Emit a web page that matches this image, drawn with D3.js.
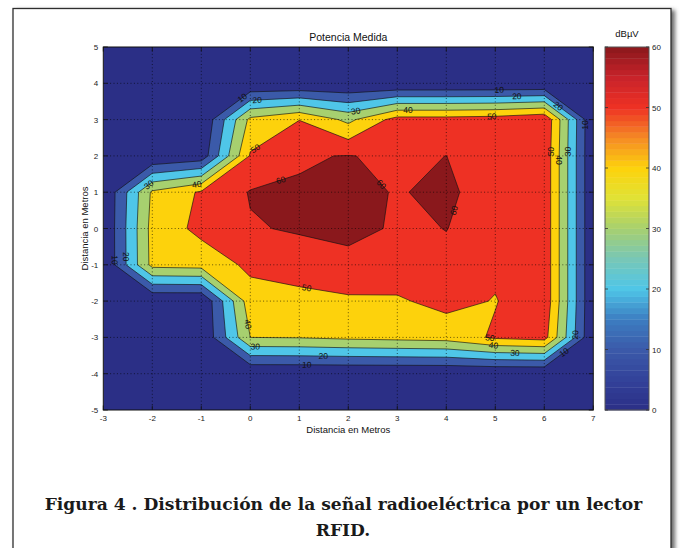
<!DOCTYPE html>
<html>
<head>
<meta charset="utf-8">
<script src="https://cdn.jsdelivr.net/npm/d3@7"></script>
<style>
  html, body { margin: 0; padding: 0; background: #ffffff; }
  svg { display: block; }
</style>
</head>
<body>
<svg id="fig" width="681" height="548"></svg>
<script>
// Measured received power (dBµV) on a 1 m grid, x = -3..7 m, y = 5..-5 m
const xNodes = d3.range(-3, 8);          // columns
const yNodes = d3.range(5, -6, -1);      // rows, top to bottom
const row_y5  = [0, 0, 0, 0,    0,    0,    0,     0,     0,    0,    0];
const row_y4  = [0, 0, 0, 0,    0,    0,    0,     0,     0,    0,    0];
const row_y3  = [0, 0, 0, 42.5, 49.8, 37.5, 54,    54,    55,   58.8, 0];
const row_y2  = [0, 0, 3.5, 51, 59.3, 60.3, 58.5,  60.05, 55,   57.5, 0];
const row_y1  = [0, 41.7, 51.2, 60.6, 60.7, 64.3, 59.05, 63, 52,  57.5, 0];
const row_y0  = [0, 43.5, 52.7, 59.3, 60.9, 64.9, 58,  60.2,  55,   57.5, 0];
const row_ym1 = [0, 43, 44, 52,   55.6, 54.7, 56,    57.8,  52,   57.5, 0];
const row_ym2 = [0, 0, 0, 46,     46.3, 49,   48.8,  53.1,  49.5, 57.5, 0];
const row_ym3 = [0, 0, 0, 40,     40.5, 42,   43,    44,    51.5, 53.8, 0];
const row_ym4 = [0, 0, 0, 0,    0,    0,    0,     0,     0,    0,    0];
const row_ym5 = [0, 0, 0, 0,    0,    0,    0,     0,     0,    0,    0];

const levels = [10, 20, 30, 40, 50, 60];
const xTicks = d3.range(-3, 8);
const yTicks = d3.range(-5, 6);
const cbTicks = [0, 10, 20, 30, 40, 50, 60];

// Contour labels: level and approximate spot (metres); snapped onto the line
const labelSpots = [
  [10, -0.16, 3.59], [20, 0.14, 3.45], [30, 2.16, 3.17], [40, 3.22, 3.26],
  [10, 5.08, 3.8], [20, 5.44, 3.57], [50, 4.93, 3.0], [20, 6.25, 3.31],
  [10, 6.8, 2.85], [50, 6.12, 2.12], [40, 6.3, 1.89], [30, 6.47, 2.12],
  [50, 0.06, 2.3], [60, 0.59, 1.47], [60, 2.66, 1.2], [60, 4.14, 0.51],
  [40, -1.09, 1.2], [30, -2.07, 1.2], [10, -2.8, -0.87], [20, -2.56, -0.78],
  [50, 1.15, -1.65], [40, -0.14, -2.66], [30, 0.1, -3.3], [20, 1.49, -3.55],
  [10, 1.15, -3.8], [50, 4.89, -3.02], [40, 4.96, -3.27], [30, 5.4, -3.48],
  [20, 6.63, -2.93], [10, 6.39, -3.39]
];

// Colour map (value -> colour) used by the filled bands and the colour bar
const cmapStops = [0, 5, 10, 15, 20, 25, 30, 35, 40, 45, 50, 55, 60];
const cmapColors = ['#2b2f86', '#33429a', '#3b5aa9', '#3c7dc1', '#4fc6e8', '#78c7b6',
                    '#a7d06f', '#e0e236', '#fdd20c', '#f58a25', '#ee3124', '#c8232a', '#8a181c'];
const cmap = d3.scaleLinear().domain(cmapStops).range(cmapColors).interpolate(d3.interpolateRgb);

const svg = d3.select('#fig');
const sans = "'Liberation Sans', Arial, Helvetica, sans-serif";

// ---- page frame with drop shadow ----
const defs = svg.append('defs');
defs.append('filter').attr('id', 'shadow')
  .attr('x', '-5%').attr('y', '-5%').attr('width', '110%').attr('height', '110%')
  .append('feGaussianBlur').attr('stdDeviation', 2.2);
svg.append('rect').attr('x', 16).attr('y', 10).attr('width', 659).attr('height', 620)
  .attr('fill', '#6a6a6a').attr('filter', 'url(#shadow)');
svg.append('rect').attr('x', 13).attr('y', 8.5).attr('width', 658).attr('height', 620)
  .attr('fill', '#ffffff').attr('stroke', '#2e2e2e').attr('stroke-width', 1.3);

// ---- main axes ----
const plot = { left: 103.3, right: 593.3, top: 47, bottom: 410 };
const x = d3.scaleLinear().domain([-3, 7]).range([plot.left, plot.right]);
const y = d3.scaleLinear().domain([-5, 5]).range([plot.bottom, plot.top]);

defs.append('clipPath').attr('id', 'plotclip').append('rect')
  .attr('x', plot.left).attr('y', plot.top)
  .attr('width', plot.right - plot.left).attr('height', plot.bottom - plot.top);

const g = svg.append('g').attr('clip-path', 'url(#plotclip)');
g.append('rect').attr('x', plot.left).attr('y', plot.top)
  .attr('width', plot.right - plot.left).attr('height', plot.bottom - plot.top)
  .attr('fill', cmap(0));

// filled contours
const nx = xNodes.length, ny = yNodes.length;
const values = [].concat(row_y5, row_y4, row_y3, row_y2, row_y1, row_y0,
                         row_ym1, row_ym2, row_ym3, row_ym4, row_ym5);
const bands = d3.contours().size([nx, ny]).thresholds(levels)(values);
// grid coordinate (node i sits at i + 0.5) -> metres
const gx = cx => xNodes[0] + (cx - 0.5) * (xNodes[1] - xNodes[0]);
const gy = cy => yNodes[0] + (cy - 0.5) * (yNodes[1] - yNodes[0]);
const proj = d3.geoTransform({
  point(px, py) { this.stream.point(x(gx(px)), y(gy(py))); }
});
const path = d3.geoPath(proj);

g.selectAll('path.band').data(bands).join('path')
  .attr('class', 'band')
  .attr('d', path)
  .attr('fill', d => cmap(d.value))
  .attr('fill-rule', 'evenodd')
  .attr('stroke', '#121212')
  .attr('stroke-width', 0.65)
  .attr('stroke-linejoin', 'round');

// dotted grid on top
g.selectAll('line.gx').data(xTicks.slice(1, -1)).join('line')
  .attr('x1', d => x(d)).attr('x2', d => x(d))
  .attr('y1', plot.top).attr('y2', plot.bottom)
  .attr('stroke', '#000').attr('stroke-width', 0.8).attr('stroke-opacity', 0.75)
  .attr('stroke-dasharray', '1,2.4');
g.selectAll('line.gy').data(yTicks.slice(1, -1)).join('line')
  .attr('y1', d => y(d)).attr('y2', d => y(d))
  .attr('x1', plot.left).attr('x2', plot.right)
  .attr('stroke', '#000').attr('stroke-width', 0.8).attr('stroke-opacity', 0.75)
  .attr('stroke-dasharray', '1,2.4');

// contour labels, snapped onto their line and turned along it
function ringsOf(level) {
  const b = bands.find(d => d.value === level);
  const rings = [];
  b.coordinates.forEach(poly => poly.forEach(r => rings.push(r.map(p => [x(gx(p[0])), y(gy(p[1]))]))));
  return rings;
}
const labelData = labelSpots.map(([lev, lx, ly]) => {
  const px = x(lx), py = y(ly);
  let best = null;
  ringsOf(lev).forEach(r => {
    for (let i = 0; i < r.length - 1; i++) {
      const [ax, ay] = r[i], [bx, by] = r[i + 1];
      const dx = bx - ax, dy = by - ay, L2 = dx * dx + dy * dy;
      if (L2 === 0) continue;
      let t = ((px - ax) * dx + (py - ay) * dy) / L2;
      t = Math.max(0, Math.min(1, t));
      const qx = ax + t * dx, qy = ay + t * dy;
      const dist = Math.hypot(px - qx, py - qy);
      if (!best || dist < best.dist) {
        let ang = Math.atan2(dy, dx) * 180 / Math.PI;
        if (ang > 90) ang -= 180;
        if (ang <= -90) ang += 180;
        best = { dist, qx, qy, ang };
      }
    }
  });
  return { lev, ...best };
});
g.selectAll('text.clabel').data(labelData).join('text')
  .attr('class', 'clabel')
  .attr('transform', d => `translate(${d.qx},${d.qy}) rotate(${d.ang})`)
  .attr('text-anchor', 'middle')
  .attr('dominant-baseline', 'central')
  .attr('font-family', sans).attr('font-size', 8.5)
  .attr('fill', '#111')
  .text(d => d.lev);

// box and inward ticks on all sides
const axes = svg.append('g');
axes.append('rect').attr('x', plot.left).attr('y', plot.top)
  .attr('width', plot.right - plot.left).attr('height', plot.bottom - plot.top)
  .attr('fill', 'none').attr('stroke', '#111').attr('stroke-width', 1);
const tl = 4.5;
xTicks.forEach(t => {
  axes.append('line').attr('x1', x(t)).attr('x2', x(t)).attr('y1', plot.bottom).attr('y2', plot.bottom - tl)
    .attr('stroke', '#111').attr('stroke-width', 0.8);
  axes.append('line').attr('x1', x(t)).attr('x2', x(t)).attr('y1', plot.top).attr('y2', plot.top + tl)
    .attr('stroke', '#111').attr('stroke-width', 0.8);
});
yTicks.forEach(t => {
  axes.append('line').attr('y1', y(t)).attr('y2', y(t)).attr('x1', plot.left).attr('x2', plot.left + tl)
    .attr('stroke', '#111').attr('stroke-width', 0.8);
  axes.append('line').attr('y1', y(t)).attr('y2', y(t)).attr('x1', plot.right).attr('x2', plot.right - tl)
    .attr('stroke', '#111').attr('stroke-width', 0.8);
});
axes.selectAll('text.xt').data(xTicks).join('text')
  .attr('x', d => x(d)).attr('y', plot.bottom + 10.5)
  .attr('text-anchor', 'middle').attr('font-family', sans).attr('font-size', 8)
  .attr('fill', '#222').text(d => d);
axes.selectAll('text.yt').data(yTicks).join('text')
  .attr('x', plot.left - 5).attr('y', d => y(d) + 3)
  .attr('text-anchor', 'end').attr('font-family', sans).attr('font-size', 8)
  .attr('fill', '#222').text(d => d);

svg.append('text').attr('x', (plot.left + plot.right) / 2).attr('y', 40.5)
  .attr('text-anchor', 'middle').attr('font-family', sans).attr('font-size', 10.5)
  .attr('fill', '#111').text('Potencia Medida');
svg.append('text').attr('x', (plot.left + plot.right) / 2).attr('y', 432.5)
  .attr('text-anchor', 'middle').attr('font-family', sans).attr('font-size', 9.5)
  .attr('fill', '#111').text('Distancia en Metros');
svg.append('text').attr('transform', `translate(88,${(plot.top + plot.bottom) / 2}) rotate(-90)`)
  .attr('text-anchor', 'middle').attr('font-family', sans).attr('font-size', 9.5)
  .attr('fill', '#111').text('Distancia en Metros');

// ---- colour bar ----
const cb = { left: 605, right: 649, top: 47, bottom: 410 };
const cy = d3.scaleLinear().domain([0, 60]).range([cb.bottom, cb.top]);
const nSteps = 64;
const steps = d3.range(nSteps).map(i => ({ lo: i * 60 / nSteps, hi: (i + 1) * 60 / nSteps }));
svg.selectAll('rect.cb').data(steps).join('rect')
  .attr('class', 'cb')
  .attr('x', cb.left).attr('width', cb.right - cb.left)
  .attr('y', d => cy(d.hi)).attr('height', d => cy(d.lo) - cy(d.hi) + 0.4)
  .attr('fill', d => cmap((d.lo + d.hi) / 2));
svg.append('rect').attr('x', cb.left).attr('y', cb.top)
  .attr('width', cb.right - cb.left).attr('height', cb.bottom - cb.top)
  .attr('fill', 'none').attr('stroke', '#555').attr('stroke-width', 1);
cbTicks.forEach(t => {
  svg.append('line').attr('x1', cb.left).attr('x2', cb.left + 3).attr('y1', cy(t)).attr('y2', cy(t))
    .attr('stroke', '#333').attr('stroke-width', 0.8);
  svg.append('line').attr('x1', cb.right).attr('x2', cb.right - 3).attr('y1', cy(t)).attr('y2', cy(t))
    .attr('stroke', '#333').attr('stroke-width', 0.8);
});
svg.selectAll('text.cbt').data(cbTicks).join('text')
  .attr('x', cb.right + 3).attr('y', d => cy(d) + 3)
  .attr('font-family', sans).attr('font-size', 8).attr('fill', '#222').text(d => d);
svg.append('text').attr('x', (cb.left + cb.right) / 2).attr('y', 37)
  .attr('text-anchor', 'middle').attr('font-family', sans).attr('font-size', 9.5)
  .attr('fill', '#111').text('dBµV');

// ---- caption: size chosen so the first line spans the text block ----
const serif = "'DejaVu Serif', 'Liberation Serif', serif";
const cap1 = svg.append('text').attr('x', 343.5).attr('y', 509.5)
  .attr('text-anchor', 'middle').attr('font-family', serif).attr('font-weight', 'bold')
  .attr('font-size', 18).attr('fill', '#1a1a1a')
  .text('Figura 4 .  Distribución de la señal radioeléctrica por un lector');
const natural = cap1.node().getComputedTextLength();
const capSize = Math.min(20, 18 * 598 / natural);
cap1.attr('font-size', capSize);
svg.append('text').attr('x', 343).attr('y', 535.5)
  .attr('text-anchor', 'middle').attr('font-family', serif).attr('font-weight', 'bold')
  .attr('font-size', capSize).attr('fill', '#1a1a1a')
  .text('RFID.');
</script>
</body>
</html>
